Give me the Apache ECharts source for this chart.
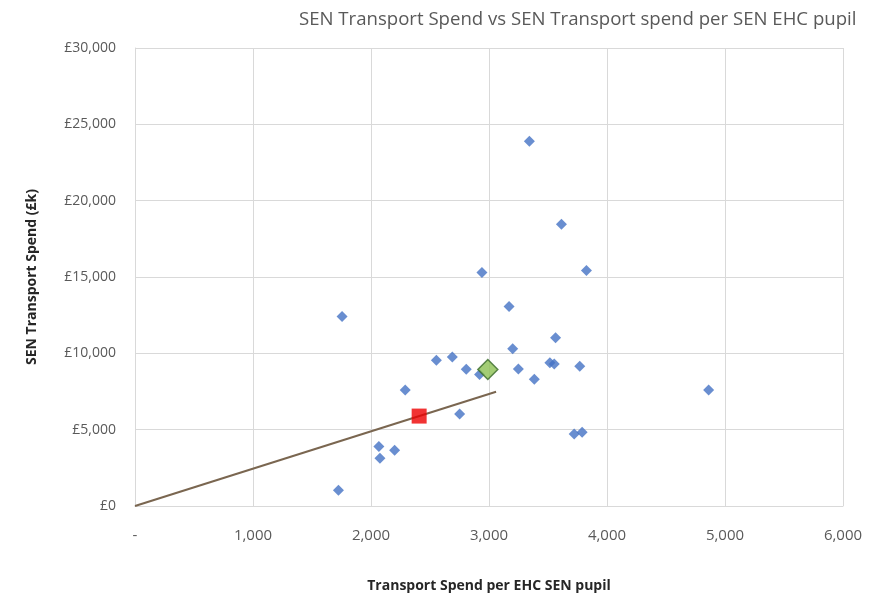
<!DOCTYPE html>
<html>
<head>
<meta charset="utf-8">
<script src="https://cdn.jsdelivr.net/npm/echarts@6/dist/echarts.min.js"></script>
<style>
  html, body { margin: 0; padding: 0; background: #fff; }
  #main { width: 882px; height: 598px; }
</style>
</head>
<body>
<div id="main"></div>
<script>
// spend per EHC SEN pupil (x) and total SEN transport spend £k (y)
var perPupil = [1724, 1755, 2067, 2076, 2200, 2290, 2554, 2689, 2751, 2807, 2920, 2940, 3170, 3201, 3249, 3342, 3384, 3516, 3553, 3564, 3614, 3722, 3769, 3789, 3826, 4861];
var totalSpend = [1030, 12420, 3900, 3130, 3650, 7600, 9550, 9760, 6020, 8960, 8610, 15300, 13070, 10300, 8980, 23900, 8300, 9390, 9300, 11020, 18460, 4720, 9160, 4830, 15420, 7600];

var averagePoint = [2990, 8940];   // green diamond
var councilPoint = [2408, 5890];   // red square
var trendLine = [[0, 0], [3060, 7480]];

var xTicks = { 0: "-", 1000: "1,000", 2000: "2,000", 3000: "3,000", 4000: "4,000", 5000: "5,000", 6000: "6,000" };

var points = [];
for (var i = 0; i < perPupil.length; i++) {
  points.push([perPupil[i], totalSpend[i]]);
}

var chart = echarts.init(document.getElementById("main"));
chart.setOption({
  animation: false,
  backgroundColor: "#fff",
  title: {
    text: "SEN Transport Spend vs SEN Transport spend per SEN EHC pupil",
    left: 294,
    top: 5,
    textStyle: { fontFamily: "Open Sans", fontSize: 18.6, fontWeight: "normal", color: "#595959" }
  },
  grid: { left: 135, right: 39, top: 48, bottom: 89 },
  xAxis: {
    type: "value",
    min: 0,
    max: 6000,
    interval: 1000,
    name: "Transport Spend per EHC SEN pupil",
    nameLocation: "middle",
    nameGap: 73,
    nameTextStyle: { fontFamily: "Open Sans", fontSize: 14, fontWeight: "bold", color: "#262626" },
    axisLine: { show: true, lineStyle: { color: "#d9d9d9" } },
    axisTick: { show: false },
    axisLabel: {
      fontFamily: "Open Sans", fontSize: 15, color: "#595959", margin: 22,
      formatter: function (v) { return xTicks[v]; }
    },
    splitLine: { show: true, lineStyle: { color: "#d9d9d9", width: 1 } }
  },
  yAxis: {
    type: "value",
    min: 0,
    max: 30000,
    interval: 5000,
    name: "SEN Transport Spend (£k)",
    nameLocation: "middle",
    nameGap: 96,
    nameTextStyle: { fontFamily: "Open Sans", fontSize: 14, fontWeight: "bold", color: "#262626" },
    axisLine: { show: true, lineStyle: { color: "#d9d9d9" } },
    axisTick: { show: false },
    axisLabel: {
      fontFamily: "Open Sans", fontSize: 14, color: "#595959", margin: 19,
      formatter: function (v) { return "£" + v.toLocaleString("en-GB"); }
    },
    splitLine: { show: true, lineStyle: { color: "#d9d9d9", width: 1 } }
  },
  series: [
    {
      type: "line",
      data: trendLine,
      symbol: "none",
      lineStyle: { color: "#7a6650", width: 2 },
      z: 1
    },
    {
      type: "scatter",
      data: points,
      symbol: "diamond",
      symbolSize: 11,
      itemStyle: { color: "#4472c4" },
      z: 2
    },
    {
      type: "scatter",
      data: [councilPoint],
      symbol: "rect",
      symbolSize: 15,
      itemStyle: { color: "#ee0000" },
      z: 3
    },
    {
      type: "scatter",
      data: [averagePoint],
      symbol: "diamond",
      symbolSize: 20,
      itemStyle: { color: "#8cc152", borderColor: "#3a6b2a", borderWidth: 1.5 },
      z: 3
    }
  ]
});
</script>
</body>
</html>
